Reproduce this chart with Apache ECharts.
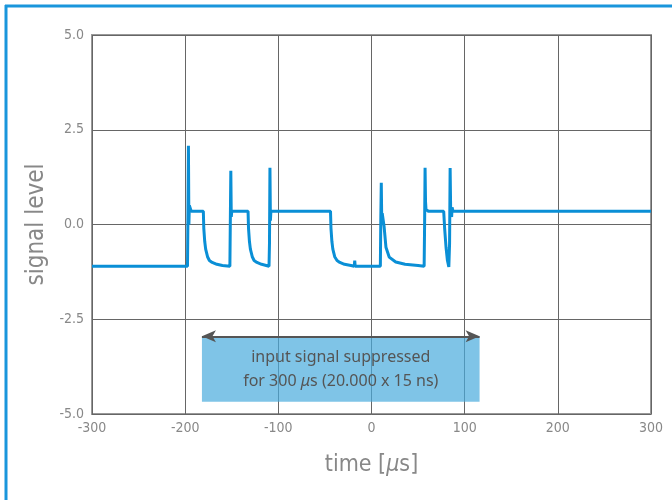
<!DOCTYPE html>
<html>
<head>
<meta charset="utf-8">
<script src="https://cdn.jsdelivr.net/npm/echarts@6/dist/echarts.min.js"></script>
<style>
  html, body { margin: 0; padding: 0; background: #fff; }
  #chart { width: 672px; height: 500px; }
</style>
</head>
<body>
<div id="chart"></div>
<script>
// tiempo en microsegundos
const timeUs = [
  -300, -197.5, -197, -196.5, -196, -195.5, -194.5, -193.5,
  -180.5, -180, -179, -178, -176, -174, -171, -166, -160, -152,
  -151.5, -151, -150.5, -150, -132.5, -132, -131, -130, -128, -126, -123, -118, -113, -110,
  -109.5, -109, -108.5, -108, -107, -44, -43.5, -42.5, -41.5, -39.5, -37, -34, -29, -22,
  -18.5, -18, -17.5, 9.5, 10, 10.5, 11, 11.5, 12.5, 13.5, 15.5, 19, 26, 36, 50, 56.5,
  57, 57.5, 58, 58.5, 60, 61, 77.5, 78.5, 80, 81.5, 83, 83.8, 84.4, 85, 86, 86.5, 87.5, 300
];
// nivel de señal
const signalLevel = [
  -1.1, -1.1, 0.3, 2.08, 0.0, 0.5, 0.45, 0.35,
  0.35, -0.1, -0.45, -0.65, -0.85, -0.95, -1.0, -1.05, -1.08, -1.1,
  -1.05, 1.42, 0.2, 0.35, 0.35, -0.1, -0.45, -0.65, -0.85, -0.95, -1.0, -1.05, -1.08, -1.1,
  -0.5, 1.5, 0.1, 0.35, 0.35, 0.35, -0.1, -0.45, -0.65, -0.85, -0.95, -1.0, -1.05, -1.08,
  -1.1, -0.95, -1.1, -1.1, 0.2, 1.1, 0.1, 0.3, 0.3, -0.05, -0.6, -0.86, -0.99, -1.05, -1.08, -1.1,
  0.0, 1.5, 0.6, 0.4, 0.4, 0.35, 0.35, -0.1, -0.6, -0.95, -1.12, -0.5, 1.49, 0.3, 0.2, 0.45, 0.35, 0.35
];
const yTicks = [-5, 2.5, 5];
const boxStart = [-182, -2.95];
const boxEnd = [116, -4.68];
const boxText = ['input signal suppressed', 'for 300 {i|μ}s (20.000 x 15 ns)'];

const labelFont = '"Liberation Sans Narrow", "DejaVu Sans Condensed", sans-serif';
const boxFont = '"Noto Sans", sans-serif';

const chart = echarts.init(document.getElementById('chart'));

chart.setOption({
  animation: false,
  grid: {
    left: 92, right: 21, top: 35, bottom: 86,
    show: true, borderColor: '#999', borderWidth: 2
  },
  xAxis: {
    type: 'value', min: -300, max: 300, interval: 100,
    name: 'time [{i|μ}s]', nameLocation: 'middle', nameGap: 40,
    nameTextStyle: {
      fontFamily: labelFont, fontSize: 23, color: '#888',
      rich: { i: { fontFamily: labelFont, fontSize: 23, color: '#888', fontStyle: 'italic' } }
    },
    axisLine: { show: false },
    axisTick: { show: false },
    axisLabel: { fontFamily: labelFont, fontSize: 14, color: '#888', margin: 7 },
    splitLine: { lineStyle: { color: '#666', width: 1 } }
  },
  yAxis: {
    type: 'value', min: yTicks[0], max: yTicks[2], interval: yTicks[1],
    name: 'signal level', nameLocation: 'middle', nameGap: 40,
    nameTextStyle: { fontFamily: labelFont, fontSize: 24, color: '#888' },
    axisLine: { show: false },
    axisTick: { show: false },
    axisLabel: {
      fontFamily: labelFont, fontSize: 14, color: '#888', margin: 8,
      formatter: v => v.toFixed(1)
    },
    splitLine: { lineStyle: { color: '#666', width: 1 } }
  },
  series: [{
    type: 'line',
    data: timeUs.map((t, i) => [t, signalLevel[i]]),
    showSymbol: false,
    lineStyle: { color: '#0a8fd6', width: 3 },
    markArea: {
      silent: true,
      itemStyle: { color: 'rgba(72,171,221,0.7)' },
      label: {
        show: true, position: 'inside',
        formatter: boxText.join('\n'),
        fontFamily: boxFont, fontSize: 16, color: '#555', lineHeight: 24,
        rich: { i: { fontFamily: boxFont, fontSize: 16, color: '#555', fontStyle: 'italic' } }
      },
      data: [[{ coord: boxStart }, { coord: boxEnd }]]
    },
    markLine: {
      silent: true,
      symbol: ['arrow', 'arrow'],
      symbolSize: [9, 14],
      label: { show: false },
      lineStyle: { color: '#555', width: 2, type: 'solid' },
      data: [[{ coord: [boxStart[0], boxStart[1]] }, { coord: [boxEnd[0], boxStart[1]] }]]
    }
  }],
  graphic: [
    { type: 'line', shape: { x1: 5, y1: 6, x2: 672, y2: 6 }, style: { stroke: '#1a96dc', lineWidth: 3 } },
    { type: 'line', shape: { x1: 6, y1: 5, x2: 6, y2: 500 }, style: { stroke: '#1a96dc', lineWidth: 3 } }
  ]
});
</script>
</body>
</html>
